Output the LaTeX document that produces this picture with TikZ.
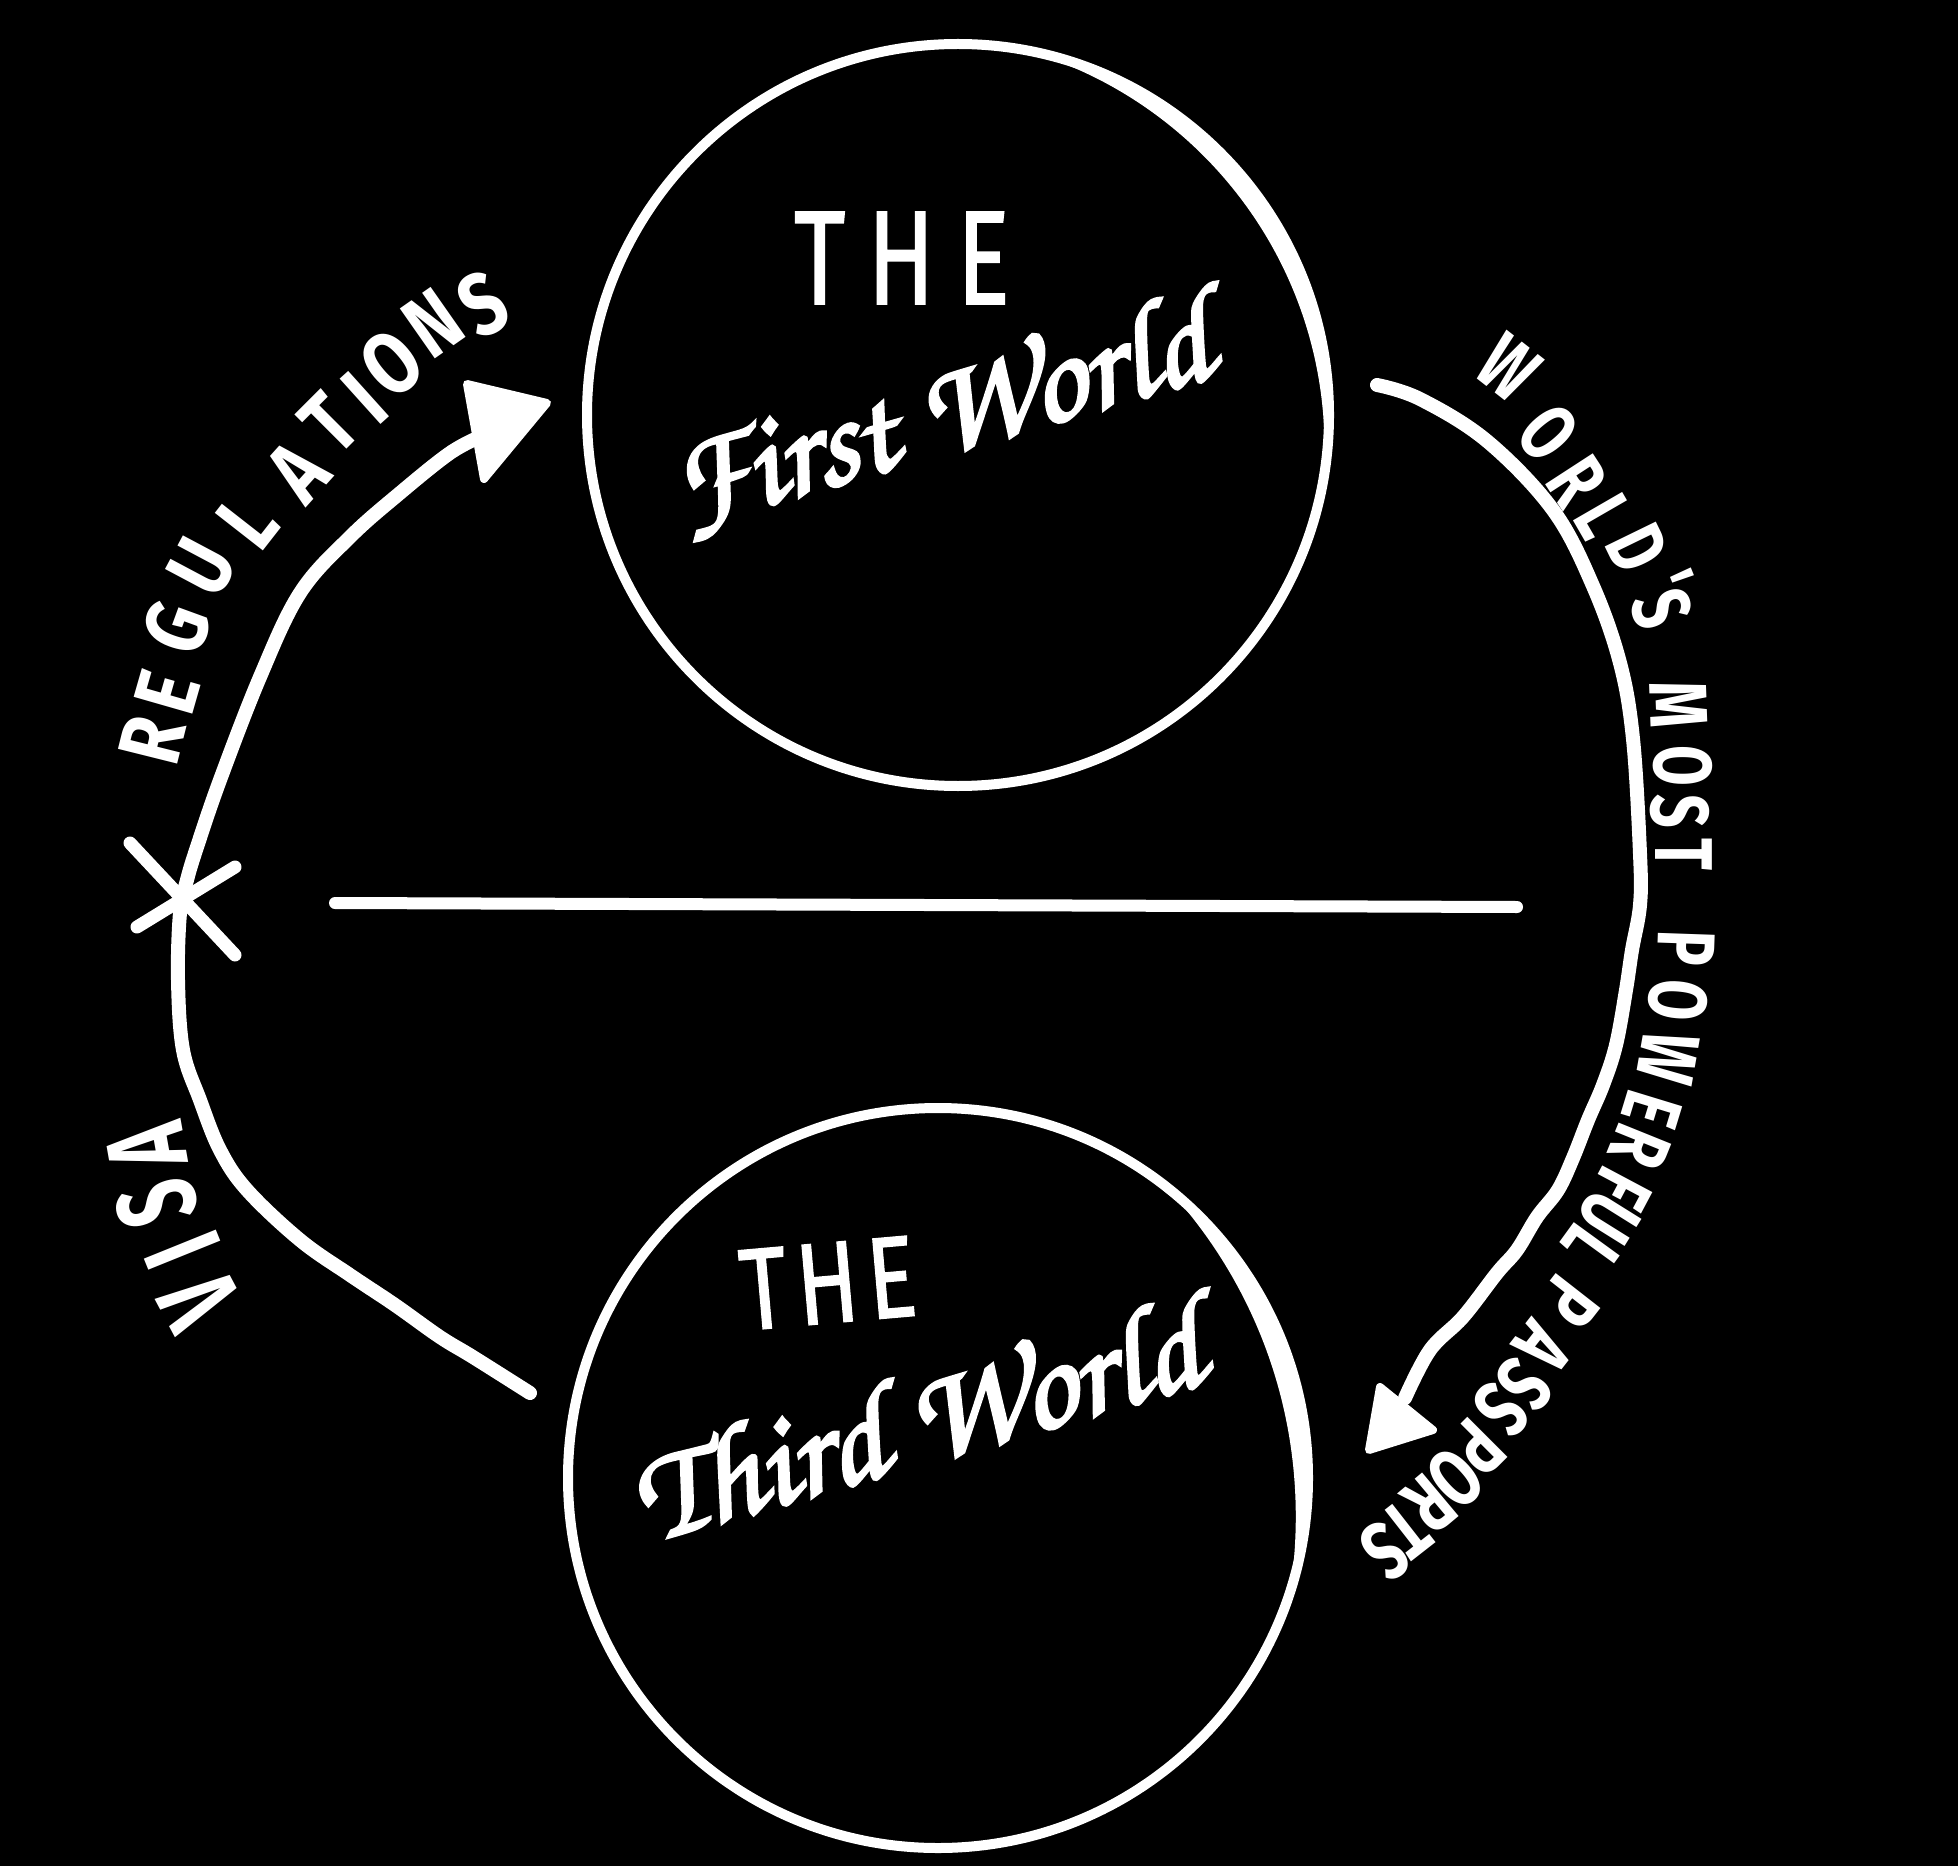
\documentclass[tikz,border=0pt]{standalone}
\usepackage{fontspec}
\usepackage{graphicx}
\usetikzlibrary{calc}
\newfontfamily\capsfont[FakeStretch=0.8]{Fira Sans}
\newfontfamily\capsright[FakeStretch=0.72]{Fira Sans}
\newfontfamily\capsnarrow[FakeStretch=0.65]{Fira Sans}
\newfontfamily\thefont[FakeBold=1.2]{Fira Sans}
\newfontfamily\handfont[FakeBold=2.5]{TeX Gyre Chorus}
\newcommand\capsL{\capsfont\bfseries\fontsize{44}{44}\selectfont}
\newcommand\capsR{\capsright\bfseries\fontsize{41}{41}\selectfont}
\newcommand\capsV{\capsnarrow\bfseries\fontsize{56}{56}\selectfont}
\begin{document}
\begin{tikzpicture}[x=0.5pt,y=-0.5pt,
  circ/.style={draw=white, line width=5pt, circle, inner sep=0pt, outer sep=0pt},
  conn/.style={draw=white, line width=7pt, line cap=round, line join=round},
  head/.style={fill=white, draw=white, line width=4pt, line join=round},
  divider/.style={draw=white, line width=6pt, line cap=round},
  cross/.style={draw=white, line width=6.5pt, line cap=round},
  crescent/.style={fill=white, even odd rule},
  lbl/.style={text=white, inner sep=0pt},
  capl/.style={text=white, inner sep=0pt, font=\capsL, text height=30pt, text depth=0pt, anchor=center},
  capr/.style={text=white, inner sep=0pt, font=\capsR, text height=28pt, text depth=0pt, anchor=center},
  capv/.style={text=white, inner sep=0pt, font=\capsV, text height=38.5pt, text depth=0pt, anchor=center},
]
\fill[black] (0,0) rectangle (1958,1866);
\useasboundingbox (0,0) rectangle (1958,1866);

% circles
\node[circ, minimum size=371pt] (first) at (958,415) {};
\node[circ, minimum size=370pt] (third) at (938,1478) {};
% heavier, re-traced parts of the circle outlines
\begin{scope}
  \clip (first.center) circle[radius=185.5pt];
  \fill[crescent] (first.center) circle[radius=185.5pt]
    ($(first.center)+(145:58.2)$) circle[radius=207.1pt];
\end{scope}
\begin{scope}
  \clip (third.center) circle[radius=185pt];
  \fill[crescent] (third.center) circle[radius=185pt]
    ($(third.center)+(163:132)$) circle[radius=242pt];
\end{scope}

% texts in circles
\node[lbl] (the1) at (902,258) {\resizebox{108pt}{46pt}{\thefont\fontsize{64}{64}\selectfont T\hspace{0.22em}H\hspace{0.22em}E}};
\node[lbl, rotate=16] (fw) at (940,416) {\resizebox{278pt}{!}{\handfont\fontsize{60}{60}\selectfont First World}};
\node[lbl, rotate=5] (the3) at (828,1283) {\resizebox{88pt}{40pt}{\thefont\fontsize{64}{64}\selectfont T\hspace{0.1em}H\hspace{0.1em}E}};
\node[lbl, rotate=16] (tw) at (916,1420) {\resizebox{292pt}{!}{\handfont\fontsize{60}{60}\selectfont Third World}};

% divider
\coordinate (dl) at (335,903);
\coordinate (dr) at (1517,907);
\draw[divider] (dl) -- (dr);

% left arrow
\coordinate (ls) at (530,1393);
\coordinate (le) at (482,436);
\coordinate (lt) at (547,403);
\draw[conn] plot[smooth, tension=0.6] coordinates {(ls) (473,1357) (440,1337) (395,1305) (350,1275) (300,1240) (247,1190) (220,1150) (200,1100) (183,1050) (178,980) (180,913) (187,880) (197,847) (220,780) (260,677) (300,593) (350,537) (400,493) (450,453) (le)};
\filldraw[head] (467,384) -- (lt) -- (484,479) -- cycle;

% cross on the left arrow
\coordinate (x1a) at (130,843);
\coordinate (x1b) at (235,955);
\coordinate (x2a) at (137,927);
\coordinate (x2b) at (235,867);
\draw[cross] (x1a) -- (x1b);
\draw[cross] (x2a) -- (x2b);

% right arrow
\coordinate (rs) at (1377,385);
\coordinate (re) at (1405,1398);
\coordinate (rt) at (1369,1450);
\draw[conn] plot[smooth, tension=0.6] coordinates {(rs) (1420,399) (1487,441) (1553,510) (1593,586) (1620,663) (1633,739) (1640,854) (1640,905) (1632,950) (1626,990) (1616,1045) (1603,1085) (1588,1120) (1573,1158) (1558,1190) (1537,1217) (1517,1250) (1497,1273) (1463,1317) (1430,1350) (re)};
\filldraw[head] (1380,1387) -- (1433,1430) -- (rt) -- cycle;

% curved labels, letter by letter
\foreach \c/\x/\y/\r [count=\i] in {R/153/740/76, E/168/692/74, G/177/628/70, U/202/567/62,
    L/248/522/52, A/298/472/48, T/330/424/45, I/365/398/42, O/392/364/40, N/433/324/35, S/483/305/28}
  \node[capl, rotate=\r] (reg\i) at (\x,\y) {\c};
\foreach \c/\x/\y/\r [count=\i] in {V/200/1300/118, I/183/1250/112, S/157/1203/105, A/147/1147/100}
  \node[capv, rotate=\r] (visa\i) at (\x,\y) {\c};
\foreach \c/\x/\y/\r [count=\i] in {W/1508/368/-38, O/1548/433/-50, R/1577/482/-57, L/1603/517/-60,
    D/1637/548/-64, '/1666/583/-68, S/1661/609/-72,
    M/1678/705/-88, O/1682/766/-90, S/1679/811/-90, T/1683/854/-90,
    P/1686/948/-92, O/1678/1000/-95, W/1668/1058/-100, E/1652/1110/-107, R/1640/1147/-112,
    F/1622/1188/-118, U/1609/1218/-122, L/1590/1248/-126,
    P/1570/1302/-128, A/1543/1347/-128, S/1524/1384/-130, S/1501/1410/-132, P/1478/1447/-135,
    O/1455/1478/-138, R/1430/1504/-140, T/1406/1529/-142, S/1385/1551/-145}
  \node[capr, rotate=\r] (wmp\i) at (\x,\y) {\c};
\end{tikzpicture}
\end{document}
